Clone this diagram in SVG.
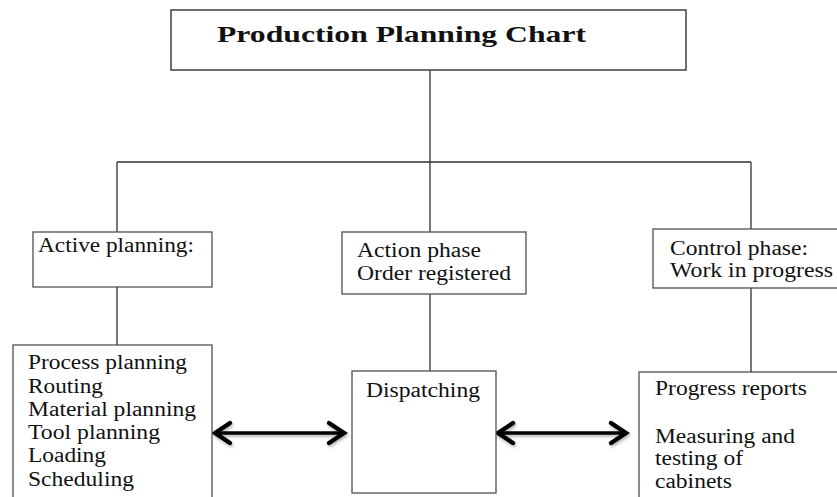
<svg xmlns="http://www.w3.org/2000/svg" width="837" height="497" viewBox="0 0 837 497">
<style>
.box{fill:#fff;stroke:#505050;stroke-width:1.3}
.tbox{fill:#fff;stroke:#404040;stroke-width:1.5}
.ln{stroke:#303030;stroke-width:1.3;fill:none}
text{font-family:'Liberation Serif',serif;fill:#111}
.t{font-size:20.5px}
.title{font-size:24px;font-weight:bold}
.arr{stroke:#000;stroke-width:3.5;fill:none}
</style>
<defs>
<marker id="head" markerUnits="userSpaceOnUse" markerWidth="30" markerHeight="30" viewBox="-16 -12 20 24" refX="0" refY="0" orient="auto-start-reverse" overflow="visible">
<path d="M-12,-8 L0,0 L-12,8" fill="none" stroke="#000" stroke-width="3.5" stroke-linecap="round" stroke-linejoin="miter"/>
</marker>
<filter id="sh" filterUnits="userSpaceOnUse" x="190" y="410" width="460" height="50">
<feDropShadow dx="1" dy="2" stdDeviation="1.5" flood-color="#000" flood-opacity="0.3"/>
</filter>
</defs>
<rect width="837" height="497" fill="#fff"/>
<g id="connectors">
<line class="ln" x1="430" y1="70" x2="430" y2="232"/>
<line class="ln" x1="117" y1="162" x2="751" y2="162"/>
<line class="ln" x1="117" y1="162" x2="117" y2="232"/>
<line class="ln" x1="751" y1="162" x2="751" y2="229"/>
<line class="ln" x1="117" y1="287" x2="117" y2="345"/>
<line class="ln" x1="430" y1="294" x2="430" y2="371"/>
<line class="ln" x1="751" y1="288" x2="751" y2="372"/>
<g filter="url(#sh)">
<line class="arr" x1="215" y1="433" x2="344" y2="433" marker-start="url(#head)" marker-end="url(#head)"/>
<line class="arr" x1="498" y1="433" x2="626" y2="433" marker-start="url(#head)" marker-end="url(#head)"/>
</g>
</g>
<g id="title" font-family="Liberation Serif, serif">
<rect class="tbox" x="171" y="10" width="515" height="60"/>
<text class="title" x="217" y="42" textLength="369" lengthAdjust="spacingAndGlyphs">Production Planning Chart</text>
</g>
<g id="active-planning" font-family="Liberation Serif, serif">
<rect class="box" x="33" y="232" width="179" height="55"/>
<text class="t" x="38" y="252" textLength="156" lengthAdjust="spacingAndGlyphs">Active planning:</text>
</g>
<g id="action-phase" font-family="Liberation Serif, serif">
<rect class="box" x="342" y="232" width="184" height="62"/>
<text class="t" x="357" y="257" textLength="124" lengthAdjust="spacingAndGlyphs">Action phase</text>
<text class="t" x="357" y="280" textLength="154" lengthAdjust="spacingAndGlyphs">Order registered</text>
</g>
<g id="control-phase" font-family="Liberation Serif, serif">
<rect class="box" x="653" y="229" width="190" height="59"/>
<text class="t" x="670" y="255" textLength="138" lengthAdjust="spacingAndGlyphs">Control phase:</text>
<text class="t" x="670" y="277" textLength="163" lengthAdjust="spacingAndGlyphs">Work in progress</text>
</g>
<g id="planning-tasks" font-family="Liberation Serif, serif">
<rect class="box" x="13" y="345" width="199" height="160"/>
<text class="t" x="28" y="369" textLength="159" lengthAdjust="spacingAndGlyphs">Process planning</text>
<text class="t" x="28" y="392.5" textLength="75" lengthAdjust="spacingAndGlyphs">Routing</text>
<text class="t" x="28" y="416" textLength="168" lengthAdjust="spacingAndGlyphs">Material planning</text>
<text class="t" x="28" y="439" textLength="132" lengthAdjust="spacingAndGlyphs">Tool planning</text>
<text class="t" x="28" y="462" textLength="78" lengthAdjust="spacingAndGlyphs">Loading</text>
<text class="t" x="28" y="485.5" textLength="106" lengthAdjust="spacingAndGlyphs">Scheduling</text>
</g>
<g id="dispatching" font-family="Liberation Serif, serif">
<rect class="box" x="352" y="371" width="144" height="122"/>
<text class="t" x="366" y="397" textLength="114" lengthAdjust="spacingAndGlyphs">Dispatching</text>
</g>
<g id="progress" font-family="Liberation Serif, serif">
<rect class="box" x="639" y="372" width="210" height="140"/>
<text class="t" x="655" y="395" textLength="152" lengthAdjust="spacingAndGlyphs">Progress reports</text>
<text class="t" x="655" y="443" textLength="140" lengthAdjust="spacingAndGlyphs">Measuring and</text>
<text class="t" x="655" y="465" textLength="88" lengthAdjust="spacingAndGlyphs">testing of</text>
<text class="t" x="655" y="488" textLength="77" lengthAdjust="spacingAndGlyphs">cabinets</text>
</g>
</svg>
